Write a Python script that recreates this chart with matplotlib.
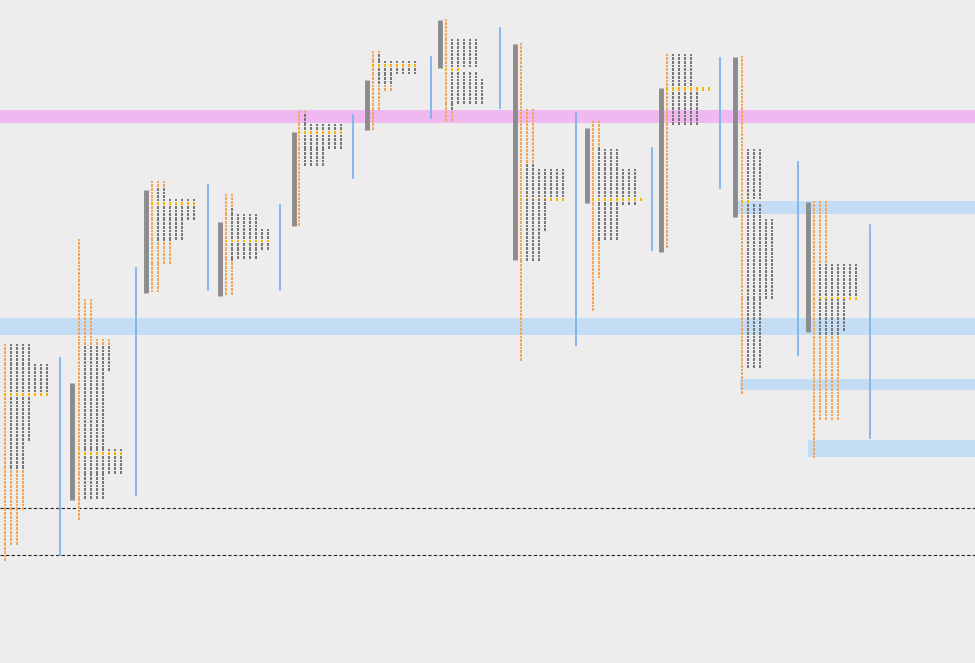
import matplotlib
matplotlib.use("Agg")
import matplotlib.pyplot as plt
import numpy as np

prof_x = [5, 79, 152, 226, 299, 373, 446, 521, 593, 667, 742, 814]
bar_x = [None, 72, 146, 220, 294, 367, 440, 515, 587, 661, 735, 808]
va = [(350, 470), (383, 500), (190, 293), (222, 296), (132, 226), (80, 130),
      (20, 68), (44, 260), (128, 203), (88, 252), (57, 217), (202, 332)]
grey = [(345, 470), (345, 500), (188, 240), (208, 262), (115, 165), (55, 85),
        (35, 110), (165, 262), (145, 240), (55, 125), (150, 370), (265, 335)]
poc = [395, 452, 204, 241, 133, 67, 70, 198, 200, 90, 200, 297]
poc_w = [8, 8, 8, 8, 8, 8, 3, 8, 9, 8, 2, 8]
segments = [
    [(345, 365, 5), (365, 395, 8), (395, 440, 5), (440, 468, 4), (468, 510, 4), (510, 545, 3), (545, 560, 1)],
    [(240, 300, 1), (300, 340, 3), (340, 370, 6), (370, 450, 5), (450, 475, 8), (475, 500, 5), (500, 520, 1)],
    [(182, 200, 3), (200, 220, 8), (220, 240, 6), (240, 265, 4), (265, 292, 2)],
    [(195, 215, 2), (215, 230, 6), (230, 250, 8), (250, 260, 6), (260, 296, 2)],
    [(112, 125, 2), (125, 150, 8), (150, 165, 5), (165, 210, 1), (210, 226, 1)],
    [(52, 62, 2), (62, 75, 8), (75, 90, 4), (90, 110, 2), (110, 130, 1)],
    [(20, 40, 1), (40, 80, 6), (80, 105, 7), (105, 122, 2)],
    [(44, 110, 1), (110, 170, 3), (170, 200, 8), (200, 230, 5), (230, 262, 4), (262, 300, 1), (300, 362, 1)],
    [(122, 150, 2), (150, 170, 5), (170, 205, 8), (205, 240, 5), (240, 280, 2), (280, 312, 1)],
    [(55, 90, 5), (90, 125, 6), (125, 180, 1), (180, 250, 1)],
    [(57, 150, 1), (150, 220, 4), (220, 300, 6), (300, 370, 4), (370, 395, 1)],
    [(202, 265, 3), (265, 300, 8), (300, 330, 6), (330, 420, 5), (420, 458, 1)],
]
vol_x = [60, 136, 208, 280, 353, 431, 500, 576, 652, 720, 798, 870]
vol_rng = [(358, 555), (268, 495), (185, 290), (205, 290), (115, 178), (57, 118),
           (28, 108), (113, 345), (148, 250), (58, 188), (162, 355), (225, 438)]
zones = [(110, 123, 0, "#f0b8f0"), (318, 335, 0, "#c5dcf5"), (201, 214, 735, "#c5dcf5"),
         (379, 390, 740, "#c5dcf5"), (440, 457, 808, "#c5dcf5")]
dashed = [508, 555]

fig = plt.figure(figsize=(9.75, 6.63), dpi=100, facecolor="#ededed")
ax = fig.add_axes([0, 0, 1, 1])
ax.set_facecolor("#ededed")
ax.set_xlim(0, 975)
ax.set_ylim(663, 0)
ax.axis("off")

for yt, yb, xs, c in zones:
    ax.fill_between([xs, 975], yt, yb, color=c, zorder=1, lw=0)
for y in dashed:
    ax.axhline(y, color="#222222", lw=0.8, ls=(0, (3, 2)), zorder=2)

step_y, step_x = 3.7, 6.0
for i in range(len(prof_x)):
    xs, ys, cs = [], [], []
    vt, vb = va[i]
    gt, gb = grey[i]
    for y0, y1, n in segments[i]:
        for y in np.arange(y0, y1, step_y):
            w = n
            is_poc = abs(y - poc[i]) < step_y / 2
            if is_poc:
                w = poc_w[i]
            for k in range(w):
                xs.append(prof_x[i] + k * step_x)
                ys.append(y)
                if is_poc:
                    cs.append("#f5b400")
                elif gt <= y <= gb and k > 0:
                    cs.append("#777777")
                else:
                    cs.append("#f5a55a")
    ax.scatter(xs, ys, s=4, marker="s", c=cs, lw=0, zorder=4)
    if bar_x[i] is not None:
        ax.plot([bar_x[i], bar_x[i]], [vt, vb], color="#8c8c8c", lw=3.5, zorder=3, solid_capstyle="butt")
    t, b = vol_rng[i]
    ax.plot([vol_x[i], vol_x[i]], [t, b], color="#7fb2ee", lw=1.3, zorder=3)

fig.savefig("out.png", dpi=100, facecolor="#ededed")
